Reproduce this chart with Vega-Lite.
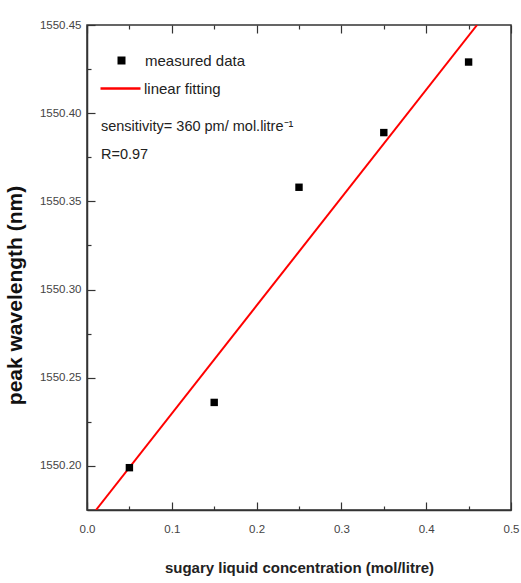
{
  "$schema": "https://vega.github.io/schema/vega-lite/v6.json",
  "autosize": {"type": "none"},
  "width": 424,
  "height": 485,
  "padding": {"left": 87, "top": 25, "right": 10, "bottom": 73},
  "background": "white",
  "config": {
    "view": {"stroke": "#333333", "strokeWidth": 1.5},
    "font": "Liberation Sans",
    "axis": {"domainColor": "#333333", "tickColor": "#333333", "domainWidth": 1.5, "tickWidth": 1.2, "grid": false,
      "labelFont": "Liberation Sans", "labelFontSize": 11.5, "labelColor": "#444444"}
  },
  "datasets": {
    "measured": [
      {"conc": 0.05, "wl": 1550.199, "series": "measured data"},
      {"conc": 0.15, "wl": 1550.236, "series": "measured data"},
      {"conc": 0.25, "wl": 1550.358, "series": "measured data"},
      {"conc": 0.35, "wl": 1550.389, "series": "measured data"},
      {"conc": 0.45, "wl": 1550.429, "series": "measured data"}
    ],
    "fit": [
      {"conc": 0.0106, "wl": 1550.175, "series": "linear fitting"},
      {"conc": 0.46, "wl": 1550.45, "series": "linear fitting"}
    ],
    "notes": [
      {"conc": 0.0165, "wl": 1550.392, "label": "sensitivity= 360 pm/ mol.litre⁻¹"},
      {"conc": 0.0165, "wl": 1550.3765, "label": "R=0.97"}
    ]
  },
  "layer": [
    {
      "data": {"name": "fit"},
      "mark": {"type": "line", "strokeWidth": 2, "clip": true},
      "encoding": {
        "x": {"field": "conc", "type": "quantitative", "scale": {"domain": [0, 0.5], "nice": false, "zero": false},
          "axis": {"title": "sugary liquid concentration (mol/litre)", "values": [0, 0.05, 0.1, 0.15, 0.2, 0.25, 0.3, 0.35, 0.4, 0.45, 0.5],
            "labelExpr": "abs(datum.value*10 - round(datum.value*10)) > 0.01 ? '' : format(datum.value, '.1f')",
            "tickSize": -8,
            "tickDash": {"condition": {"test": "abs(datum.value*10 - round(datum.value*10)) > 0.01", "value": [4, 100]}, "value": [8, 100]},
            "grid": true, "gridColor": "#333333", "gridWidth": 1.2,
            "gridDash": {"condition": {"test": "abs(datum.value*10 - round(datum.value*10)) > 0.01", "value": [4, 2000]}, "value": [8, 2000]},
            "labelPadding": 21, "labelFlush": false, "titleFontSize": 15, "titleFontWeight": "bold", "titleColor": "#222222", "titlePadding": 26}},
        "y": {"field": "wl", "type": "quantitative", "scale": {"domain": [1550.175, 1550.45], "nice": false, "zero": false},
          "axis": {"title": "peak wavelength (nm)", "values": [1550.2, 1550.225, 1550.25, 1550.275, 1550.3, 1550.325, 1550.35, 1550.375, 1550.4, 1550.425, 1550.45],
            "labelExpr": "abs((datum.value-1550)*20 - round((datum.value-1550)*20)) > 0.01 ? '' : format(datum.value, '.2f')",
            "tickSize": {"condition": {"test": "abs((datum.value-1550)*20 - round((datum.value-1550)*20)) > 0.01", "value": -4}, "value": -8},
            "labelPadding": 14, "titleFontSize": 21, "titleFontWeight": "bold", "titleColor": "#111111", "titleY": 270, "titleX": -62}},
        "stroke": {"field": "series", "type": "nominal", "scale": {"domain": ["linear fitting"], "range": ["#ff0000"]},
          "legend": {"title": null, "orient": "none", "legendX": 12, "legendY": 42, "labelFontSize": 15, "labelColor": "#222222", "symbolSize": 1600, "symbolStrokeWidth": 2.5, "symbolType": "stroke", "labelOffset": 2}}
      }
    },
    {
      "data": {"name": "measured"},
      "mark": {"type": "point", "shape": "square", "filled": true, "size": 55, "opacity": 1},
      "encoding": {
        "x": {"field": "conc", "type": "quantitative"},
        "y": {"field": "wl", "type": "quantitative"},
        "fill": {"field": "series", "type": "nominal", "scale": {"domain": ["measured data"], "range": ["#000000"]},
          "legend": {"title": null, "orient": "none", "legendX": 27, "legendY": 28, "labelFontSize": 15, "labelColor": "#222222", "symbolSize": 64, "symbolType": "square", "labelOffset": 16}}
      }
    },
    {
      "data": {"name": "notes"},
      "mark": {"type": "text", "align": "left", "baseline": "middle", "fontSize": 14.5, "color": "#222222"},
      "encoding": {
        "x": {"field": "conc", "type": "quantitative"},
        "y": {"field": "wl", "type": "quantitative"},
        "text": {"field": "label"}
      }
    }
  ]
}
